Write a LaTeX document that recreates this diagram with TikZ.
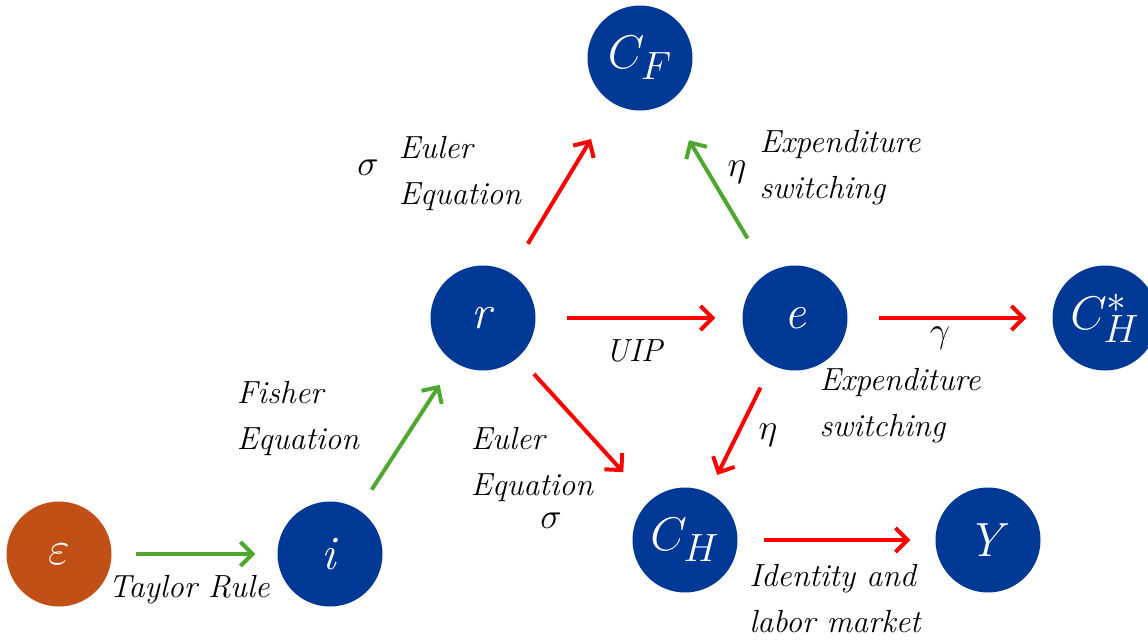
\documentclass[tikz,border=0pt]{standalone}
\usepackage{graphicx}
\usetikzlibrary{arrows.meta}
\definecolor{nodeblue}{RGB}{0,56,150}
\definecolor{shockorange}{RGB}{192,80,22}
\definecolor{arrgreen}{RGB}{78,167,46}
\definecolor{arrred}{RGB}{255,0,0}
\newcommand{\nodemath}[1]{\scalebox{1.9}{\Huge$#1$}}
\newcommand{\greekmath}[1]{\scalebox{1.45}{\Huge$#1$}}
\begin{document}
\begin{tikzpicture}[x=1pt,y=-1pt,
  var/.style={circle,fill=nodeblue,minimum size=105pt,inner sep=0pt,text=white,font=\fontsize{48}{48}\selectfont},
  shock/.style={var,fill=shockorange},
  lbl/.style={font=\fontsize{32}{46}\selectfont\itshape,align=left,inner sep=0pt},
  greek/.style={inner sep=0pt},
  link/.style={line width=4pt,-{Straight Barb[length=12pt,width=24pt]}},
  redlink/.style={link,draw=arrred},
  greenlink/.style={link,draw=arrgreen}]
\clip (0,0) rectangle (1148,640);
\useasboundingbox (0,0) rectangle (1148,640);
% nodes
\node[shock] (eps) at (59,554) {\nodemath{\varepsilon}};
\node[var] (i) at (330,554) {\textit{i}};
\node[var] (r) at (483,318) {\textit{r}};
\node[var] (e) at (795,318) {\textit{e}};
\node[var] (CF) at (640,58) {\nodemath{C_F}};
\node[var] (CHs) at (1105,318) {\nodemath{C_H^*}};
\node[var] (CH) at (685,540) {\nodemath{C_H}};
\node[var] (Y) at (988,540) {\textit{Y}};
% connectors
\draw[greenlink,shorten <=24pt,shorten >=22pt] (eps) -- (i);
\draw[greenlink,shorten <=24pt,shorten >=27pt] (i) -- (r);
\draw[redlink,shorten <=34pt,shorten >=42pt] (r) -- (CF);
\draw[greenlink,shorten <=40pt,shorten >=43pt] (e) -- (CF);
\draw[redlink,shorten <=31pt,shorten >=27pt] (r) -- (e);
\draw[redlink,shorten <=31pt,shorten >=26pt] (e) -- (CHs);
\draw[redlink,shorten <=25pt,shorten >=20pt] (e) -- (CH);
\draw[redlink,shorten <=23pt,shorten >=39pt] (r) -- (CH);
\draw[redlink,shorten <=26pt,shorten >=25pt] (CH) -- (Y);
% labels
\node[lbl] (l1) at (189,590) {Taylor Rule};
\node[lbl] (l2) at (298,418) {Fisher\\Equation};
\node[lbl] (l3) at (460,173) {Euler\\Equation};
\node[greek] (s1) at (368,168) {\greekmath{\sigma}};
\node[lbl] (l4) at (840,168) {Expenditure\\switching};
\node[greek] (h1) at (737,172) {\greekmath{\eta}};
\node[lbl] (l5) at (634,351) {UIP};
\node[greek] (g1) at (940,338) {\greekmath{\gamma}};
\node[lbl] (l6) at (900,406) {Expenditure\\switching};
\node[greek] (h2) at (768,435) {\greekmath{\eta}};
\node[lbl] (l7) at (532,464) {Euler\\Equation};
\node[greek] (s2) at (551,521) {\greekmath{\sigma}};
\node[lbl] (l8) at (835,599) {Identity and\\labor market};
\end{tikzpicture}
\end{document}
